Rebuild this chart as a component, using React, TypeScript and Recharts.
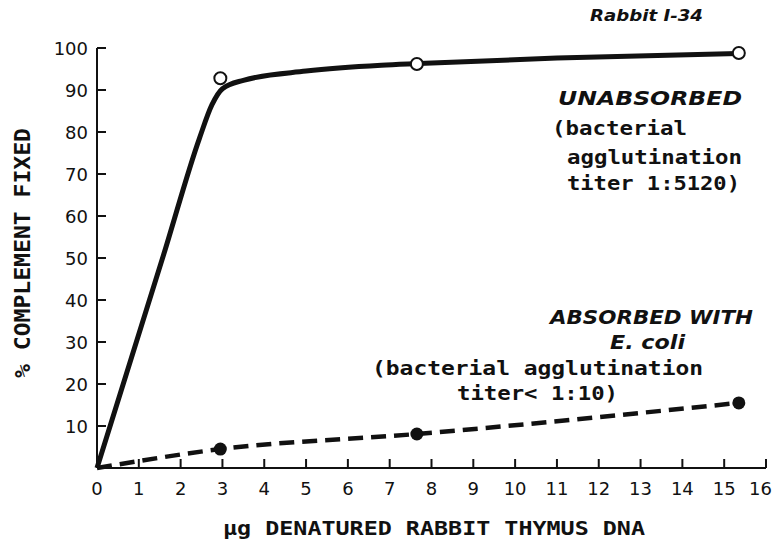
import { ComposedChart, Line, Scatter, XAxis, YAxis } from 'recharts';

// Complement fixation vs. denatured rabbit thymus DNA (Rabbit I-34)

// measured points, unabsorbed serum (open circles)
const unabsorbedDose = [2.95, 7.65, 15.35];
const unabsorbedPct = [92.8, 96.2, 98.8];

// hand-drawn curve through the unabsorbed data
const curveDose = [0, 1.6, 2.45, 2.75, 3.0, 3.5, 5.0, 6.8, 7.7, 11, 15.35];
const curvePct = [0, 51, 78.5, 86.5, 90.3, 92.3, 94.5, 95.9, 96.3, 97.6, 98.7];

// absorbed with E. coli (filled circles, dashed line)
const absorbedDose = [0, 2.95, 7.65, 15.35];
const absorbedPct = [0, 4.5, 8.1, 15.5];

const xTicks = [0, 1, 2, 3, 4, 5, 6, 7, 8, 9, 10, 11, 12, 13, 14, 15, 16];
const yTicks = [10, 20, 30, 40, 50, 60, 70, 80, 90, 100];

const INK = '#111';
const tickFont = '"DejaVu Sans", sans-serif';
const monoFont = '"DejaVu Sans Mono", monospace';

const zip = (xs: number[], ys: number[]) => xs.map((x, i) => ({ x, y: ys[i] }));

const curveData = zip(curveDose, curvePct);
const openData = zip(unabsorbedDose, unabsorbedPct);
const absorbedData = zip(absorbedDose, absorbedPct);
const filledData = absorbedData.slice(1);

const XTick = ({ x, y, payload }: any) => {
  const last = payload.value === 16;
  return (
    <g>
      {payload.value !== 0 && (
        <line x1={x} x2={x} y1={y} y2={y - 9} stroke={INK} strokeWidth={2} />
      )}
      <text
        x={last ? x + 6 : x}
        y={y + 20}
        textAnchor={last ? 'end' : 'middle'}
        dominantBaseline="central"
        fontFamily={tickFont}
        fontSize={18}
        fill={INK}
      >
        {payload.value}
      </text>
    </g>
  );
};

const YTick = ({ x, y, payload }: any) => (
  <g>
    <line x1={x} x2={x + 9} y1={y} y2={y} stroke={INK} strokeWidth={2} />
    <text
      x={x - 9}
      y={y}
      textAnchor="end"
      dominantBaseline="central"
      fontFamily={tickFont}
      fontSize={18}
      fill={INK}
    >
      {payload.value}
    </text>
  </g>
);

const OpenDot = ({ cx, cy }: any) => (
  <circle cx={cx} cy={cy} r={6} fill="#fff" stroke={INK} strokeWidth={2} />
);

const FilledDot = ({ cx, cy }: any) => <circle cx={cx} cy={cy} r={6.5} fill={INK} />;

// annotation text, placed over the chart
const Note = ({ x, y, w, children, italic, mono, size = 20 }: any) => (
  <text
    x={x}
    y={y}
    textLength={w}
    lengthAdjust="spacingAndGlyphs"
    dominantBaseline="central"
    fontFamily={mono ? monoFont : tickFont}
    fontStyle={italic ? 'italic' : 'normal'}
    fontWeight="bold"
    fontSize={size}
    fill={INK}
  >
    {children}
  </text>
);

export default function App() {
  return (
    <div style={{ position: 'absolute', left: 0, top: 0, width: 775, height: 542, background: '#fff' }}>
      <ComposedChart
        width={775}
        height={542}
        margin={{ top: 48, right: 9, bottom: 44, left: 37 }}
      >
        <XAxis
          dataKey="x"
          type="number"
          domain={[0, 16]}
          ticks={xTicks}
          height={30}
          tickSize={0}
          tickMargin={0}
          tickLine={false}
          axisLine={{ stroke: INK, strokeWidth: 2 }}
          tick={<XTick />}
          interval={0}
        />
        <YAxis
          dataKey="y"
          type="number"
          domain={[0, 100]}
          ticks={yTicks}
          width={60}
          tickSize={0}
          tickMargin={0}
          tickLine={false}
          axisLine={{ stroke: INK, strokeWidth: 2 }}
          tick={<YTick />}
          interval={0}
        />
        <Line
          data={curveData}
          dataKey="y"
          type="monotone"
          stroke={INK}
          strokeWidth={5}
          dot={false}
          isAnimationActive={false}
        />
        <Line
          data={absorbedData}
          dataKey="y"
          type="monotone"
          stroke={INK}
          strokeWidth={4.5}
          strokeDasharray="15 8"
          dot={false}
          isAnimationActive={false}
        />
        <Scatter data={openData} dataKey="y" shape={<OpenDot />} isAnimationActive={false} />
        <Scatter data={filledData} dataKey="y" shape={<FilledDot />} isAnimationActive={false} />
      </ComposedChart>
      <svg
        width={775}
        height={542}
        style={{ position: 'absolute', left: 0, top: 0, pointerEvents: 'none' }}
      >
        <Note x={590} y={15} w={113} italic size={16}>Rabbit I-34</Note>

        <Note x={558} y={98} w={184} italic>UNABSORBED</Note>
        <Note x={552} y={128} w={135} mono>(bacterial</Note>
        <Note x={567} y={157} w={175} mono>agglutination</Note>
        <Note x={567} y={183} w={173} mono>titer 1:5120)</Note>

        <Note x={550} y={317} w={203} italic>ABSORBED WITH</Note>
        <Note x={610} y={342} w={75} italic>E. coli</Note>
        <Note x={372} y={368} w={331} mono>(bacterial agglutination</Note>
        <Note x={457} y={393} w={161} mono>titer&lt; 1:10)</Note>

        <Note x={223} y={528} w={422} mono>μg DENATURED RABBIT THYMUS DNA</Note>
        <g transform="translate(23, 253) rotate(-90)">
          <Note x={-125} y={0} w={250} mono size={21}>% COMPLEMENT FIXED</Note>
        </g>
      </svg>
    </div>
  );
}
